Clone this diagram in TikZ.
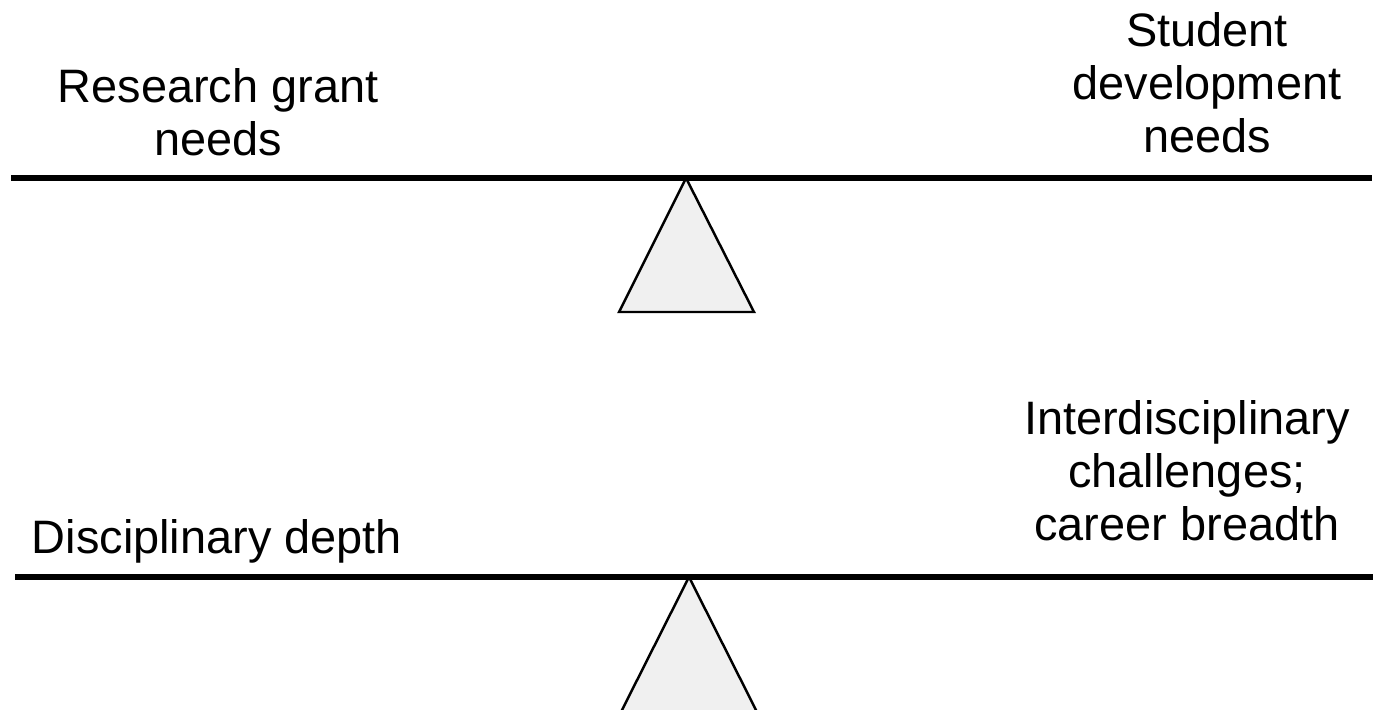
\documentclass[tikz,border=0pt]{standalone}
\usepackage{fontspec}
\setmainfont{Liberation Sans}
\usetikzlibrary{positioning}
\definecolor{pivotgray}{HTML}{F0F0F0}

\begin{document}
\begin{tikzpicture}[
  x=0.02cm, y=-0.02cm,
  beam/.style={line width=3.8pt, black},
  pivot/.style={draw=black, line width=1.4pt, fill=pivotgray, line join=miter},
  weight/.style={font=\fontsize{26.7pt}{29.9pt}\selectfont, align=center,
    inner sep=0pt, anchor=base},
]
\useasboundingbox (0,0) rectangle (1374,710);

% =============================================
% Top balance: grant needs vs. student needs
% =============================================
\draw[pivot] (686,178) -- (754,312) -- (619,312) -- cycle;
\coordinate (topl) at (11,178);
\coordinate (topr) at (1372,178);
\draw[beam] (topl) -- (topr);

\node[weight] (grant) at (218,155) {Research grant\\needs};
\node[weight] (student) at (1207,152) {Student\\development\\needs};

% =============================================
% Bottom balance: depth vs. breadth
% =============================================
\draw[pivot] (689,577) -- (757,712) -- (621,712) -- cycle;
\coordinate (botl) at (15,577);
\coordinate (botr) at (1373,577);
\draw[beam] (botl) -- (botr);

\node[weight] (depth) at (217,553) {Disciplinary depth};
\node[weight] (breadth) at (1187,540) {Interdisciplinary\\challenges;\\career breadth};

\end{tikzpicture}
\end{document}
